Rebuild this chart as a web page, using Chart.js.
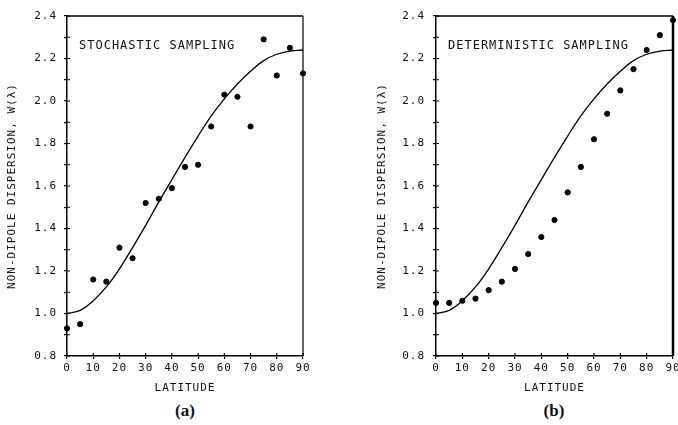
<!DOCTYPE html>
<html>
<head>
<meta charset="utf-8">
<script src="https://cdn.jsdelivr.net/npm/chart.js@4/dist/chart.umd.min.js"></script>
<style>
  html,body{margin:0;padding:0;background:#fff;}
  body{width:678px;height:425px;overflow:hidden;position:relative;}
  .box{position:absolute;top:0;height:400px;}
  .cap{position:absolute;top:411px;transform:translate(-50%,-50%);font:bold 17px "Liberation Serif",serif;color:#111;}
</style>
</head>
<body>
<div class="box" style="left:0;width:330px;"><canvas id="ca"></canvas></div>
<div class="box" style="left:340px;width:350px;"><canvas id="cb"></canvas></div>
<div class="cap" style="left:185px;">(a)</div>
<div class="cap" style="left:554px;">(b)</div>
<script>
// ---- data ----
const latitudes = [0,5,10,15,20,25,30,35,40,45,50,55,60,65,70,75,80,85,90];
const stochastic = [0.93,0.95,1.16,1.15,1.31,1.26,1.52,1.54,1.59,1.69,1.70,1.88,2.03,2.02,1.88,2.29,2.12,2.25,2.13];
const deterministic = [1.05,1.05,1.06,1.07,1.11,1.15,1.21,1.28,1.36,1.44,1.57,1.69,1.82,1.94,2.05,2.15,2.24,2.31,2.38];
const theory = [1.00,1.015,1.06,1.125,1.21,1.31,1.415,1.525,1.63,1.735,1.835,1.93,2.01,2.08,2.14,2.19,2.22,2.235,2.24];
const xTicks = [0,10,20,30,40,50,60,70,80,90];
const yRange = [0.8, 2.4];
const panelTitles = ['STOCHASTIC SAMPLING', 'DETERMINISTIC SAMPLING'];
const xTitle = 'LATITUDE';
const yTitle = 'NON-DIPOLE DISPERSION, W(\u03bb)';

const FONT = '"DejaVu Sans Mono", "Liberation Mono", monospace';

const framePlugin = {
  id: 'frame',
  beforeLayout(chart){ chart.ctx.letterSpacing = '1px'; },
  beforeDraw(chart){ chart.ctx.letterSpacing = '1px'; },
  afterDraw(chart, args, opts){
    const ctx = chart.ctx;
    const {left, right, top, bottom} = chart.chartArea;
    const x = chart.scales.x, y = chart.scales.y;
    ctx.save();
    ctx.strokeStyle = '#000';
    ctx.lineWidth = 1.5;
    ctx.beginPath(); ctx.moveTo(left, top); ctx.lineTo(right, top); ctx.stroke();
    ctx.lineWidth = opts.rightWidth;
    ctx.beginPath(); ctx.moveTo(right, top); ctx.lineTo(right, bottom); ctx.stroke();
    ctx.lineWidth = 1.2;
    ctx.beginPath();
    y.ticks.forEach(t => { const py = y.getPixelForValue(t.value); ctx.moveTo(left, py); ctx.lineTo(left + 3, py); });
    x.ticks.forEach(t => { const px = x.getPixelForValue(t.value); ctx.moveTo(px, bottom); ctx.lineTo(px, bottom - 3); });
    ctx.stroke();
    ctx.letterSpacing = '1px';
    ctx.font = '12px ' + FONT;
    ctx.fillStyle = '#111';
    ctx.textBaseline = 'middle';
    ctx.textAlign = 'left';
    ctx.fillText(opts.text, left + 12, top + 30);
    ctx.restore();
  }
};

function makeChart(id, points, cfg){
  const pts = latitudes.map((lat, i) => ({x: lat, y: points[i]}));
  const curve = latitudes.map((lat, i) => ({x: lat, y: theory[i]}));
  return new Chart(document.getElementById(id), {
    type: 'scatter',
    data: {
      datasets: [
        { type: 'line', data: curve, borderColor: '#000', borderWidth: 1.3, pointRadius: 0,
          tension: 0.4, fill: false, clip: false },
        { data: pts, backgroundColor: '#000', borderColor: '#000', pointRadius: 2.6,
          pointStyle: 'circle', clip: false }
      ]
    },
    options: {
      responsive: true, maintainAspectRatio: false, animation: false,
      layout: { padding: { left: 0, top: 16, right: cfg.padRight, bottom: 0 } },
      plugins: { legend: { display: false }, tooltip: { enabled: false },
        frame: { text: cfg.text, rightWidth: cfg.rightWidth } },
      scales: {
        x: {
          type: 'linear', min: 0, max: 90,
          afterBuildTicks(s){ s.ticks = xTicks.map(v => ({value: v})); },
          afterFit(s){ s.height = 44; },
          ticks: { color: '#111', font: { family: FONT, size: 11 }, padding: 3, maxRotation: 0,
            callback: v => String(v) },
          grid: { drawOnChartArea: false, drawTicks: true, tickLength: 3, color: '#000', lineWidth: 1.2 },
          border: { color: '#000', width: 1.5 },
          title: { display: true, text: xTitle, color: '#111', font: { family: FONT, size: 11 },
            padding: { top: 0, bottom: 5 } }
        },
        y: {
          type: 'linear', min: yRange[0], max: yRange[1],
          afterFit(s){ s.width = cfg.yWidth; },
          ticks: { stepSize: 0.1, color: '#111', font: { family: FONT, size: 11 }, padding: cfg.tickPad,
            callback: v => (Math.round(v * 10) % 2 === 0 ? v.toFixed(1) : '') },
          grid: { drawOnChartArea: false, drawTicks: true, tickLength: 3, color: '#000', lineWidth: 1.2 },
          border: { color: '#000', width: 1.5 },
          title: { display: true, text: yTitle, color: '#111', font: { family: FONT, size: 11 },
            padding: { top: cfg.titlePad, bottom: 0 } }
        }
      }
    },
    plugins: [framePlugin]
  });
}

makeChart('ca', stochastic, { text: panelTitles[0], padRight: 27, yWidth: 67, tickPad: 7, titlePad: 6, rightWidth: 1.2 });
makeChart('cb', deterministic, { text: panelTitles[1], padRight: 17, yWidth: 96, tickPad: 8, titlePad: 36, rightWidth: 2.5 });
</script>
</body>
</html>
